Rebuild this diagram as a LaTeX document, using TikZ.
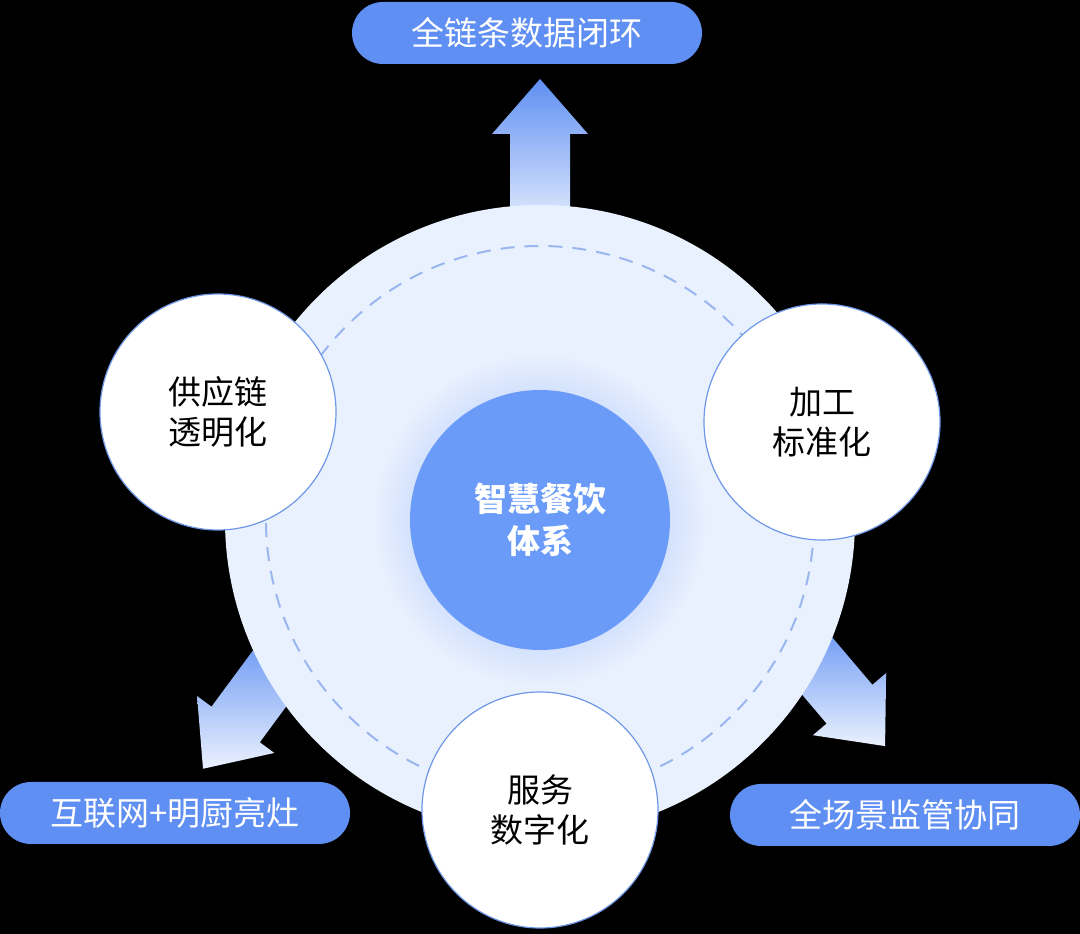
\documentclass[tikz,border=0pt]{standalone}
\usepackage{fontspec}
\newfontfamily\cjk{Noto Sans CJK SC}
\usetikzlibrary{positioning}
\definecolor{pillblue}{HTML}{5F8FF2}
\definecolor{ringfill}{HTML}{EAF1FE}
\definecolor{corefill}{HTML}{6B9BF8}
\definecolor{edgeblue}{HTML}{6E97E8}
\newcommand{\bigarrow}[3]{%
  \begin{scope}[shift={#1},rotate=#2]
    \shade[top color=pillblue, bottom color=ringfill]
      (-30,0) -- (-30,#3-55) -- (-48,#3-55) -- (0,#3) -- (48,#3-55) -- (30,#3-55) -- (30,0) -- cycle;
  \end{scope}}
\begin{document}
\begin{tikzpicture}
		[
		x=1pt, y=1pt,
		font=\cjk\fontsize{33}{40}\selectfont,
		pill/.style ={rectangle, rounded corners=31pt, fill=pillblue, text=white, minimum width=350pt, minimum height=62pt, inner sep=0pt},
		stage/.style ={circle, draw=edgeblue, line width=1.2pt, fill=white, minimum size=236pt, align=center, inner sep=0pt}
		]
		\fill[black] (0,0) rectangle (1080,934);
		\useasboundingbox (0,0) rectangle (1080,934);
		% arrows out of the ring
		\bigarrow{(540,700)}{0}{155}
		\bigarrow{(790,300)}{-139.7}{147}
		\bigarrow{(295,290)}{143.6}{155}
		\node[circle, fill=ringfill, minimum size=630pt] (ring) at (540,414) {};
		\draw[edgeblue!70, line width=2pt, dash pattern=on 14pt off 10pt] (ring.center) circle (274);
		\shade[inner color=corefill!80!white, outer color=ringfill] (540,414) circle (168);
		\node[circle, fill=corefill, minimum size=260pt, text=white, align=center, font=\cjk\bfseries\fontsize{33}{42}\selectfont] (core) at (540,414) {智慧餐饮\\体系};
		\node[stage] (supply) at (218,522) {供应链\\透明化};
		\node[stage] (process) at (822,512) {加工\\标准化};
		\node[stage] (service) at (540,124) {服务\\数字化};
		\node[pill] (data) at (527,901) {全链条数据闭环};
		\node[pill] (kitchen) at (175,121) {互联网+明厨亮灶};
		\node[pill] (watch) at (905,119) {全场景监管协同};
	\end{tikzpicture}
\end{document}
